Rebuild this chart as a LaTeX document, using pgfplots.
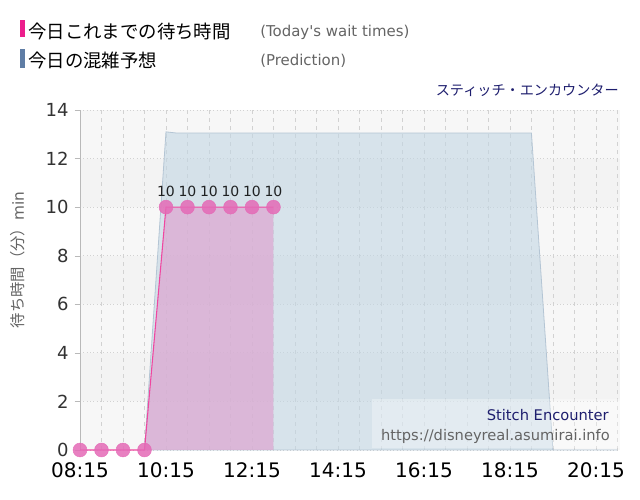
\documentclass[border=0pt]{standalone}
\usepackage{pgfplots}
\pgfplotsset{compat=1.18}
\usepackage{fontspec}
\setmainfont{DejaVu Sans}
\newfontfamily\plain{DejaVu Sans}
\newfontfamily\jp{Noto Sans CJK JP}
\definecolor{pinkbar}{RGB}{236,30,140}
\definecolor{bluebar}{RGB}{95,125,165}
\definecolor{navy}{RGB}{30,30,110}
\definecolor{gtext}{RGB}{100,100,100}
\definecolor{ticktext}{RGB}{51,51,51}
\definecolor{pinkmark}{RGB}{228,106,182}
\definecolor{pinkline}{RGB}{240,70,160}
\definecolor{pinkfill}{RGB}{221,165,208}
\definecolor{bluefill}{RGB}{194,214,227}
\definecolor{blueedge}{RGB}{180,197,212}
\definecolor{bandlight}{RGB}{247,247,247}
\definecolor{banddark}{RGB}{243,243,243}
\definecolor{gridc}{RGB}{210,210,210}
\pgfplotsset{set layers}
\begin{document}
\begin{tikzpicture}
\begin{axis}[
  at={(60pt,37.5pt)}, anchor=south west, scale only axis,
  width=405pt, height=255pt,
  xmin=8.25, xmax=20.81, ymin=0, ymax=14,
  clip=false,
  axis x line*=bottom, axis y line*=left,
  x axis line style={draw=none},
  y axis line style={draw=gray!55},
  xtick={8.25,10.25,12.25,14.25,16.25,18.25,20.25},
  xticklabels={08:15,10:15,12:15,14:15,16:15,18:15,20:15},
  minor xtick={8.75,9.25,9.75,10.75,11.25,11.75,12.75,13.25,13.75,14.75,15.25,15.75,16.75,17.25,17.75,18.75,19.25,19.75,20.75},
  ytick={0,2,...,14},
  xmajorgrids, xminorgrids, ymajorgrids,
  major grid style={gridc, dashed, line width=0.5pt},
  minor grid style={gridc, dashed, line width=0.5pt},
  y grid style={gridc, dotted, line width=0.6pt},
  x tick style={draw=none},
  minor x tick style={draw=none},
  y tick style={draw=gray!55},
  tick align=outside, major tick length=4pt,
  yticklabel style={text=ticktext, font=\fontsize{13.5pt}{14pt}\selectfont, xshift=-1pt},
  xticklabel style={text=black, font=\fontsize{15pt}{16pt}\selectfont, yshift=-2pt},
  /pgf/number format/assume math mode=true,
]
\begin{pgfonlayer}{axis background}
\fill[bandlight] (axis cs:8.25,0) rectangle (axis cs:20.81,14);
\fill[banddark] (axis cs:8.25,10) rectangle (axis cs:20.81,12);
\fill[banddark] (axis cs:8.25,6) rectangle (axis cs:20.81,8);
\fill[banddark] (axis cs:8.25,2) rectangle (axis cs:20.81,4);
\end{pgfonlayer}
% prediction
\addplot[fill=bluefill, fill opacity=0.6, draw=blueedge, line width=0.6pt] coordinates {
  (9.75,0) (10.25,13.1) (10.5,13.05) (11,13.05) (12,13.05) (13,13.05) (14,13.05) (15,13.05) (16,13.05) (17,13.05) (18,13.05) (18.75,13.05) (19.25,0) (20.75,0)
} -- cycle;
% wait times area
\addplot[fill=pinkfill, fill opacity=0.7, draw=none] coordinates {
  (9.75,0) (10.25,10) (10.75,10) (11.25,10) (11.75,10) (12.25,10) (12.75,10) (12.75,0)
} -- cycle;
% wait times line
\addplot[pinkline, line width=0.8pt, mark=none] coordinates {
  (8.25,0) (8.75,0) (9.25,0) (9.75,0) (10.25,10) (10.75,10) (11.25,10) (11.75,10) (12.25,10) (12.75,10)
};
\addplot[only marks, mark=*, color=pinkmark, mark size=5.2pt, mark options={fill=pinkmark, draw=pinkmark, opacity=0.85}] coordinates {
  (8.25,0) (8.75,0) (9.25,0) (9.75,0)
};
\addplot[only marks, mark=*, color=pinkmark, mark size=5.2pt, mark options={fill=pinkmark, draw=pinkmark, opacity=0.85},
  nodes near coords, every node near coord/.append style={text=black, font=\fontsize{10.5pt}{12pt}\selectfont, yshift=4pt}] coordinates {
  (10.25,10) (10.75,10) (11.25,10) (11.75,10) (12.25,10) (12.75,10)
};
\end{axis}
\begin{scope}[x=0.75pt,y=0.75pt]
\useasboundingbox (0,0) rectangle (640,500);
% legend
\fill[pinkbar] (20,463) rectangle (25,480);
\node[anchor=west,inner sep=0,font=\jp\fontsize{13.8pt}{15pt}\selectfont] at (28,468) {今日これまでの待ち時間};
\node[anchor=west,inner sep=0,text=gtext,font=\plain\fontsize{11.2pt}{12pt}\selectfont] at (260,468) {(Today's wait times)};
\fill[bluebar] (20,432) rectangle (25,451);
\node[anchor=west,inner sep=0,font=\jp\fontsize{13.8pt}{15pt}\selectfont] at (28,439) {今日の混雑予想};
\node[anchor=west,inner sep=0,text=gtext,font=\plain\fontsize{11.2pt}{12pt}\selectfont] at (260,439) {(Prediction)};
\node[anchor=east,inner sep=0,text=navy,font=\jp\fontsize{10.6pt}{12pt}\selectfont] at (619,410) {スティッチ・エンカウンター};
% y label
\node[rotate=90,inner sep=0,text=gtext,font=\fontsize{11.5pt}{12pt}\selectfont] at (18,240) {{\jp 待ち時間（分）}min};
% credit box
\fill[white, opacity=0.3] (372,52) rectangle (621,101);
\node[anchor=east,inner sep=0,text=navy,font=\fontsize{11pt}{12pt}\selectfont] at (609,85) {Stitch Encounter};
\node[anchor=east,inner sep=0,text=gtext,font=\fontsize{11pt}{12pt}\selectfont] at (610,64) {https://disneyreal.asumirai.info};
\end{scope}
\end{tikzpicture}
\end{document}
